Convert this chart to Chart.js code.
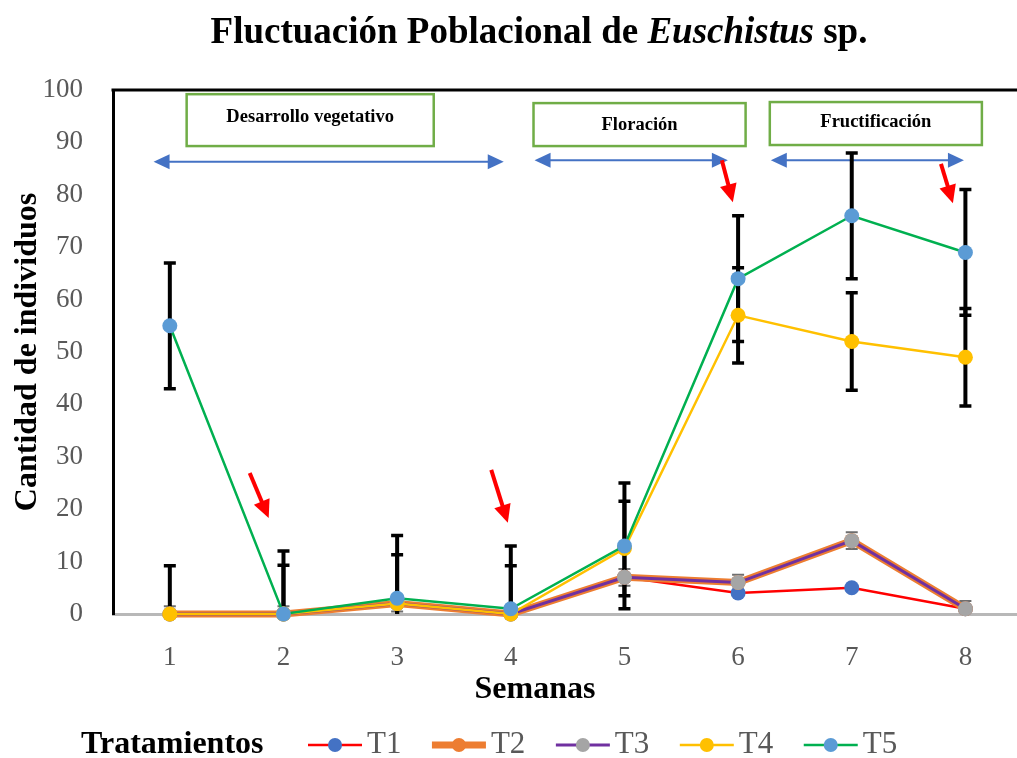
<!DOCTYPE html>
<html><head><meta charset="utf-8">
<script src="https://cdn.jsdelivr.net/npm/chart.js@4/dist/chart.umd.min.js"></script>
<style>html,body{margin:0;padding:0;background:#fff}#wrap{width:1017px;height:758px}</style>
</head><body><div id="wrap"><canvas id="c" width="1017" height="758"></canvas></div>
<script>
// ---- data ----
const weeks = [1, 2, 3, 4, 5, 6, 7, 8];
const yTicks = [0, 10, 20, 30, 40, 50, 60, 70, 80, 90, 100];
const seriesNames = ['T1', 'T2', 'T3', 'T4', 'T5'];
const t1 = [0, 0, 2, 0, 7, 4, 5, 1];
const t2 = [0, 0, 2, 0, 7, 6, 14, 1];
const t3 = [0, 0, 2, 0, 7, 6, 14, 1];
const t4 = [0, 0, 2, 0, 12.5, 57, 52, 49];
const t5 = [55, 0, 3, 1, 13, 64, 76, 69];
const err1 = [0.6, 0.6, 0.6, 0.6, 0.6, 0.6, 0.6, 0.6];
const err3 = [1.5, 1.5, 1.5, 1.5, 1.6, 1.5, 1.6, 1.5];
const err4 = [9.2, 9.3, 9.3, 9.2, 9.0, 9.1, 9.3, 9.3];
const err5 = [12, 12, 12, 12, 12, 12, 12, 12];
const phaseLabels = ['Desarrollo vegetativo', 'Floración', 'Fructificación'];

// ---- styles / annotation placement (in axis units) ----
const SERIF = '"Liberation Serif", "Times New Roman", serif';
const lineColors = ['#FF0000', '#ED7D31', '#7030A0', '#FFC000', '#00B050'];
const markerColors = ['#4472C4', '#ED7D31', '#A5A5A5', '#FFC000', '#5B9BD5'];
const lineWidths = [2.5, 7, 3, 2.5, 2.5];
const values = [t1, t2, t3, t4, t5];
const errs = [err1, null, err3, err4, err5];
const errStyle = [
  {color: '#262626', w: 1.5, cap: 10, cw: 1.5},
  null,
  {color: '#6E6E6E', w: 2, cap: 12, cw: 2},
  {color: '#000000', w: 4, cap: 12, cw: 3.5},
  {color: '#000000', w: 4, cap: 12, cw: 3.5}
];
const phaseBoxes = [
  {x0: 1.148, x1: 3.322, y0: 99.2, y1: 89.3, ty: 94.8},
  {x0: 4.200, x1: 6.066, y0: 97.5, y1: 89.3, ty: 93.3},
  {x0: 6.279, x1: 8.145, y0: 97.7, y1: 89.5, ty: 93.8}
];
const phaseArrows = [
  {x0: 0.857, x1: 3.938, y: 86.3},
  {x0: 4.209, x1: 5.910, y: 86.6},
  {x0: 6.288, x1: 7.987, y: 86.6}
];
const redArrows = [
  {x0: 1.703, y0: 26.9, x1: 1.870, y1: 18.3},
  {x0: 3.828, y0: 27.5, x1: 3.974, y1: 17.4},
  {x0: 5.857, y0: 86.6, x1: 5.954, y1: 78.6},
  {x0: 7.785, y0: 85.9, x1: 7.890, y1: 78.4}
];

function arrowHead(ctx, x, y, ang, len, half, color) {
  ctx.save();
  ctx.translate(x, y); ctx.rotate(ang);
  ctx.fillStyle = color;
  ctx.beginPath(); ctx.moveTo(0, 0); ctx.lineTo(-len, -half); ctx.lineTo(-len, half); ctx.closePath(); ctx.fill();
  ctx.restore();
}

const deco = {
  id: 'deco',
  beforeDatasetsDraw(chart) {
    const {ctx, chartArea: a, scales: {x, y}} = chart;
    ctx.save();
    // phase boxes
    phaseBoxes.forEach((b, i) => {
      const px0 = x.getPixelForValue(b.x0), px1 = x.getPixelForValue(b.x1);
      const py0 = y.getPixelForValue(b.y0), py1 = y.getPixelForValue(b.y1);
      ctx.fillStyle = '#fff';
      ctx.fillRect(px0, py0, px1 - px0, py1 - py0);
      ctx.strokeStyle = '#70AD47'; ctx.lineWidth = 2.5;
      ctx.strokeRect(px0, py0, px1 - px0, py1 - py0);
      ctx.fillStyle = '#000'; ctx.font = 'bold 18.5px ' + SERIF;
      ctx.textAlign = 'center'; ctx.textBaseline = 'middle';
      ctx.fillText(phaseLabels[i], (px0 + px1) / 2, y.getPixelForValue(b.ty));
    });
    // blue double arrows
    phaseArrows.forEach(r => {
      const px0 = x.getPixelForValue(r.x0), px1 = x.getPixelForValue(r.x1), py = y.getPixelForValue(r.y);
      ctx.strokeStyle = '#4472C4'; ctx.lineWidth = 2;
      ctx.beginPath(); ctx.moveTo(px0 + 10, py); ctx.lineTo(px1 - 10, py); ctx.stroke();
      arrowHead(ctx, px0, py, Math.PI, 16, 7.5, '#4472C4');
      arrowHead(ctx, px1, py, 0, 16, 7.5, '#4472C4');
    });
    // error bars
    ctx.beginPath(); ctx.rect(a.left, a.top - 2, a.right - a.left, a.bottom - a.top + 2); ctx.clip();
    values.forEach((vals, si) => {
      const e = errs[si]; if (!e) return;
      const st = errStyle[si];
      vals.forEach((v, i) => {
        const px = x.getPixelForValue(weeks[i]);
        const pTop = y.getPixelForValue(v + e[i]);
        const pBot = y.getPixelForValue(v - e[i]);
        ctx.strokeStyle = st.color;
        ctx.lineWidth = st.w;
        ctx.beginPath(); ctx.moveTo(px, pTop); ctx.lineTo(px, pBot); ctx.stroke();
        ctx.lineWidth = st.cw;
        ctx.beginPath();
        ctx.moveTo(px - st.cap / 2, pTop); ctx.lineTo(px + st.cap / 2, pTop);
        ctx.moveTo(px - st.cap / 2, pBot); ctx.lineTo(px + st.cap / 2, pBot);
        ctx.stroke();
      });
    });
    ctx.restore();
  },
  afterDraw(chart) {
    const {ctx, chartArea: a, scales: {x, y}} = chart;
    ctx.save();
    // top border of plot
    ctx.strokeStyle = '#000'; ctx.lineWidth = 3;
    ctx.beginPath(); ctx.moveTo(a.left - 1.5, a.top); ctx.lineTo(a.right, a.top); ctx.stroke();
    // red arrows
    redArrows.forEach(r => {
      const px0 = x.getPixelForValue(r.x0), py0 = y.getPixelForValue(r.y0);
      const px1 = x.getPixelForValue(r.x1), py1 = y.getPixelForValue(r.y1);
      const ang = Math.atan2(py1 - py0, px1 - px0);
      ctx.strokeStyle = '#FF0000'; ctx.lineWidth = 4;
      ctx.beginPath(); ctx.moveTo(px0, py0);
      ctx.lineTo(px1 - Math.cos(ang) * 14, py1 - Math.sin(ang) * 14); ctx.stroke();
      arrowHead(ctx, px1, py1, ang, 18, 8.5, '#FF0000');
    });
    // title
    const parts = [
      {t: 'Fluctuación Poblacional de ', f: 'bold 37px ' + SERIF},
      {t: 'Euschistus', f: 'italic bold 37px ' + SERIF},
      {t: ' sp.', f: 'bold 37px ' + SERIF}
    ];
    let tw = 0;
    parts.forEach(p => { ctx.font = p.f; p.w = ctx.measureText(p.t).width; tw += p.w; });
    let tx = 539 - tw / 2;
    ctx.fillStyle = '#000'; ctx.textBaseline = 'middle'; ctx.textAlign = 'left';
    parts.forEach(p => { ctx.font = p.f; ctx.fillText(p.t, tx, 33); tx += p.w; });
    // x axis title
    ctx.font = 'bold 32px ' + SERIF; ctx.textAlign = 'center';
    ctx.fillText('Semanas', 535, 690);
    // legend
    ctx.textAlign = 'left';
    const ly = 745;
    ctx.font = 'bold 32px ' + SERIF; ctx.fillStyle = '#000';
    ctx.fillText('Tratamientos', 81, ly);
    let lx = 308;
    seriesNames.forEach((n, i) => {
      ctx.strokeStyle = lineColors[i]; ctx.lineWidth = lineWidths[i];
      ctx.beginPath(); ctx.moveTo(lx, ly); ctx.lineTo(lx + 54, ly); ctx.stroke();
      ctx.fillStyle = markerColors[i];
      ctx.beginPath(); ctx.arc(lx + 27, ly, 7, 0, Math.PI * 2); ctx.fill();
      ctx.font = '31px ' + SERIF; ctx.fillStyle = '#595959';
      ctx.fillText(n, lx + 59, ly);
      lx += 59 + ctx.measureText(n).width + 30.5;
    });
    ctx.restore();
  }
};

const datasets = values.map((vals, i) => ({
  label: seriesNames[i],
  data: vals.map((v, k) => ({x: weeks[k], y: v})),
  borderColor: lineColors[i],
  borderWidth: lineWidths[i],
  backgroundColor: markerColors[i],
  pointBackgroundColor: markerColors[i],
  pointBorderWidth: 0,
  pointRadius: 7.5,
  pointHoverRadius: 7.5,
  tension: 0,
  order: 5 - i,
  clip: 10
}));

new Chart(document.getElementById('c'), {
  type: 'line',
  data: {datasets},
  plugins: [deco],
  options: {
    responsive: false,
    animation: false,
    devicePixelRatio: 1,
    layout: {autoPadding: false, padding: {top: 90, left: 0, right: 0, bottom: 0}},
    plugins: {legend: {display: false}, tooltip: {enabled: false}, title: {display: false}},
    scales: {
      x: {
        type: 'linear', min: 0.5, max: 8.454,
        afterBuildTicks: s => { s.ticks = weeks.map(v => ({value: v})); },
        afterFit: s => { s.height = 144; s.paddingLeft = 0; s.paddingRight = 0; },
        grid: {display: false, drawTicks: false},
        border: {display: true, color: '#B8B8B8', width: 3},
        ticks: {font: {family: SERIF, size: 27}, color: '#595959', padding: 28, callback: v => String(v)},
        title: {display: false}
      },
      y: {
        min: 0, max: 100,
        afterBuildTicks: s => { s.ticks = yTicks.map(v => ({value: v})); },
        afterFit: s => { s.width = 113; s.paddingTop = 0; s.paddingBottom = 0; },
        grid: {display: false, drawTicks: false},
        border: {display: true, color: '#000', width: 3},
        ticks: {font: {family: SERIF, size: 27}, color: '#595959', padding: 30},
        title: {display: true, text: 'Cantidad de individuos', font: {family: SERIF, size: 32, weight: 'bold'}, color: '#000', padding: {top: 9, bottom: 0}}
      }
    }
  }
});
</script></body></html>
